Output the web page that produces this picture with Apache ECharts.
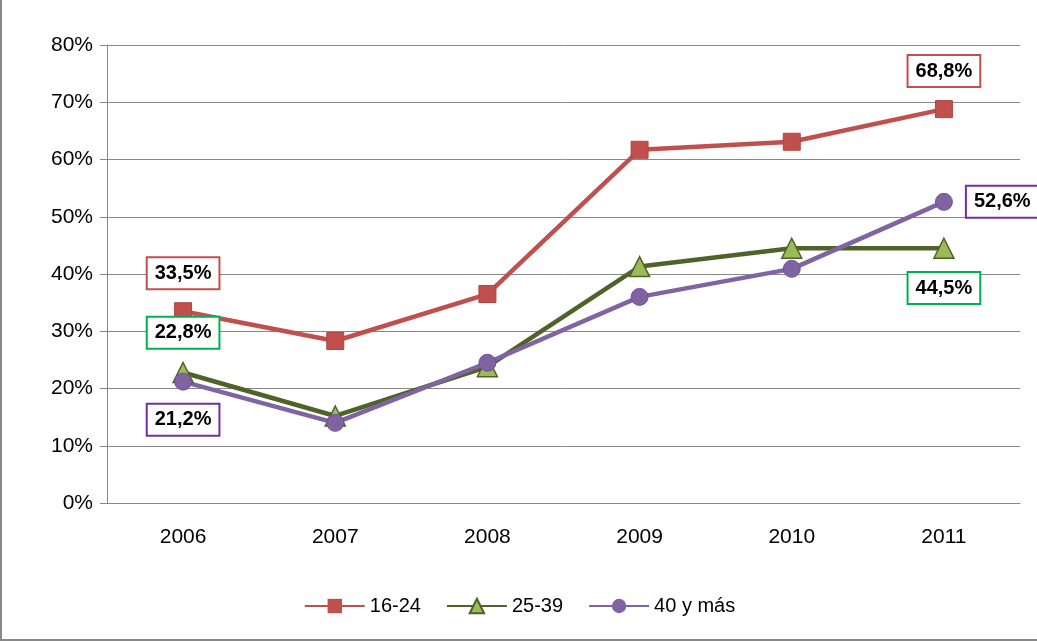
<!DOCTYPE html>
<html><head><meta charset="utf-8">
<script src="https://cdn.jsdelivr.net/npm/echarts@6/dist/echarts.min.js"></script>
<style>body{margin:0;background:#fff}#c{width:1037px;height:641px;box-sizing:border-box;border-left:2px solid #888;border-bottom:2px solid #888}</style>
</head><body><div id="c"></div>
<script>
var years = ['2006', '2007', '2008', '2009', '2010', '2011'];
var s1624 = [33.5, 28.3, 36.5, 61.7, 63.1, 68.8];
var s2539 = [22.8, 15.2, 23.8, 41.3, 44.5, 44.5];
var s40 = [21.2, 14.0, 24.5, 36.0, 40.9, 52.6];
var yTicks = [0, 10, 20, 30, 40, 50, 60, 70, 80];

function lbl(color, pos) {
    return { show: true, position: pos, formatter: function(p) { return p.value.toFixed(1).replace('.', ',') + '%'; },
        fontFamily: 'Liberation Sans', fontWeight: 'bold', fontSize: 20, color: '#000',
        backgroundColor: '#fff', borderColor: color, borderWidth: 2, padding: [5, 7], distance: 14 };
}
function mk(arr, color, idxs) {
    return arr.map(function(v, i) {
        var d = { value: v };
        if (idxs[i]) d.label = lbl(color, idxs[i]);
        return d;
    });
}
var chart = echarts.init(document.getElementById('c'));
chart.setOption({
    animation: false,
    textStyle: { fontFamily: 'Liberation Sans' },
    grid: { left: 105, right: 17, top: 45, bottom: 136 },
    legend: { bottom: 18, itemWidth: 60, itemHeight: 18, itemGap: 25, textStyle: { fontSize: 20, color: '#000' },
        data: ['16-24', '25-39', '40 y más'] },
    xAxis: { type: 'category', data: years, boundaryGap: true,
        axisLine: { lineStyle: { color: '#888' } }, axisTick: { length: 8, lineStyle: { color: '#888' } },
        axisLabel: { fontSize: 21, color: '#000', margin: 24 } },
    yAxis: { type: 'value', min: 0, max: 80, interval: 10,
        axisLine: { show: true, lineStyle: { color: '#888' } }, axisTick: { show: true, length: 7, lineStyle: { color: '#888' } },
        splitLine: { lineStyle: { color: '#888' } },
        axisLabel: { fontSize: 21, color: '#000', margin: 14, formatter: '{value}%' } },
    series: [
        { name: '16-24', type: 'line', symbol: 'rect', symbolSize: 17, lineStyle: { width: 4.5, color: '#c0504d' },
          itemStyle: { color: '#c0504d', borderColor: '#b04440' },
          data: mk(s1624, '#c0504d', { 0: 'top', 5: 'top' }) },
        { name: '25-39', type: 'line', symbol: 'triangle', symbolSize: 20, lineStyle: { width: 4.5, color: '#4f6228' },
          itemStyle: { color: '#9bbb59', borderColor: '#4f6228', borderWidth: 1.5 },
          data: mk(s2539, '#00b050', { 0: 'top', 5: 'bottom' }) },
        { name: '40 y más', type: 'line', symbol: 'circle', symbolSize: 17, lineStyle: { width: 4.5, color: '#8064a2' },
          itemStyle: { color: '#8064a2', borderColor: '#7050a0' },
          data: mk(s40, '#7030a0', { 0: 'bottom', 5: 'right' }) }
    ]
});
</script></body></html>
